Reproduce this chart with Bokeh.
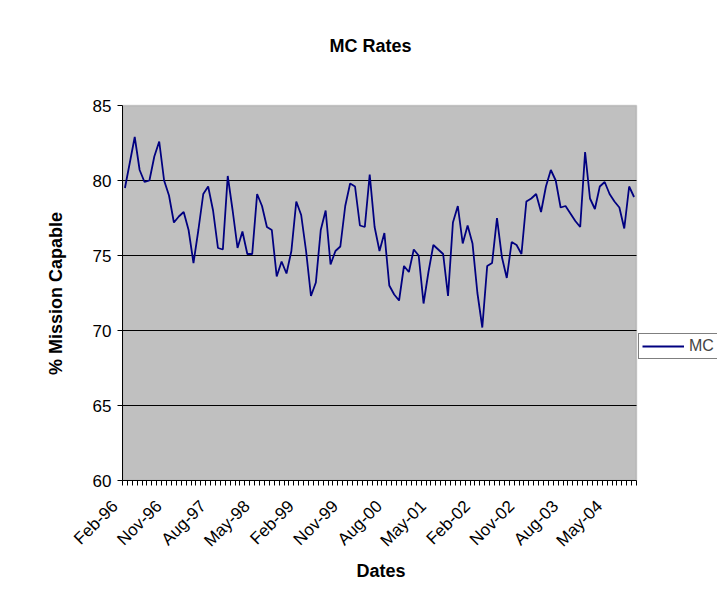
from math import pi
from bokeh.plotting import figure
from bokeh.models import (Range1d, FixedTicker, Legend, LegendItem,
                          BoxAnnotation, Label, Title)
from bokeh.embed import file_html
from bokeh.resources import INLINE

# Monthly MC rates, Feb-96 .. Oct-04
mc_rates = [
    79.5, 81.2, 82.9, 80.7, 79.9, 80.0, 81.6, 82.6, 80.0, 79.0,
    77.2, 77.6, 77.9, 76.7, 74.5, 76.7, 79.1, 79.6, 78.0, 75.5,
    75.4, 80.3, 78.0, 75.5, 76.6, 75.1, 75.1, 79.1, 78.3, 76.9,
    76.7, 73.6, 74.6, 73.8, 75.3, 78.6, 77.7, 75.3, 72.3, 73.2,
    76.7, 78.0, 74.4, 75.3, 75.6, 78.3, 79.8, 79.6, 77.0, 76.9,
    80.4, 76.9, 75.3, 76.5, 73.0, 72.4, 72.0, 74.3, 73.9, 75.4,
    75.0, 71.8, 73.9, 75.7, 75.4, 75.1, 72.3, 77.2, 78.3, 75.8,
    77.0, 75.8, 72.5, 70.2, 74.3, 74.5, 77.5, 74.9, 73.5, 75.9,
    75.7, 75.1, 78.6, 78.8, 79.1, 77.9, 79.6, 80.7, 80.0, 78.2,
    78.3, 77.8, 77.3, 76.9, 81.9, 78.8, 78.1, 79.6, 79.9, 79.1,
    78.6, 78.2, 76.8, 79.6, 78.9,
]
month_index = list(range(len(mc_rates)))

tick_labels = ["Feb-96", "Nov-96", "Aug-97", "May-98", "Feb-99", "Nov-99",
               "Aug-00", "May-01", "Feb-02", "Nov-02", "Aug-03", "May-04"]
tick_months = [0, 9, 18, 27, 36, 45, 54, 63, 72, 81, 90, 99]
y_ticks = [60, 65, 70, 75, 80, 85]
grid_values = [65, 70, 75, 80]
y_min, y_max = 60, 85

FONT = "Liberation Sans"
PAD = "\u00a0\u00a0\u00a0"   # pulls the rotated labels back from the tick, as in Excel
n = len(mc_rates)
x_lo, x_hi = -0.5, n - 0.5

# Canvas / plot-area geometry in pixels
W, H = 717, 593
PLOT_L, PLOT_R, PLOT_T, PLOT_B = 122, 636, 105, 480
px_x = (PLOT_R - PLOT_L) / (x_hi - x_lo)
px_y = (PLOT_B - PLOT_T) / (y_max - y_min)
x_end = x_hi + (W - PLOT_R) / px_x
y_end = y_max + PLOT_T / px_y

p = figure(width=W, height=H, output_backend="svg", toolbar_location=None,
           x_range=Range1d(x_lo, x_end), y_range=Range1d(y_min, y_end),
           min_border_left=PLOT_L, min_border_right=0,
           min_border_top=0, min_border_bottom=H - PLOT_B,
           background_fill_color="white", border_fill_color="white",
           outline_line_color=None, title_location=None)

p.add_layout(BoxAnnotation(left=x_lo, right=x_hi, bottom=y_min, top=y_max,
                           fill_color="#C0C0C0", fill_alpha=1,
                           line_color="#808080", line_width=1.5,
                           level="underlay"))

p.xgrid.visible = False
p.ygrid.visible = False
p.segment(x0=[x_lo] * len(grid_values), x1=[x_hi] * len(grid_values),
          y0=grid_values, y1=grid_values, line_color="black", line_width=1)

r = p.line(month_index, mc_rates, line_color="#000080", line_width=1.8)

# chart title
p.add_layout(Label(x=370 - PLOT_L, y=PLOT_B - 45, x_units="screen",
                   y_units="screen", text="MC Rates", text_align="center",
                   text_baseline="middle", text_font=FONT,
                   text_font_size="18px", text_font_style="bold",
                   text_color="black"))

xa = p.xaxis[0]
xa.bounds = (x_lo, x_hi)
xa.ticker = FixedTicker(ticks=tick_months,
                        minor_ticks=[i - 0.5 for i in range(n + 1)])
xa.major_label_overrides = {m: l + PAD for m, l in zip(tick_months, tick_labels)}
xa.major_label_orientation = pi / 4
xa.major_tick_line_color = None
xa.major_tick_out = 5
xa.major_tick_in = 0
xa.minor_tick_out = 5
xa.minor_tick_in = 0
xa.minor_tick_line_color = "black"
xa.axis_line_color = "black"
xa.major_label_text_font = FONT
xa.major_label_text_font_size = "17px"
xa.major_label_text_color = "black"
xa.major_label_standoff = 8

# x-axis title, centred under the plot area
p.add_layout(Title(text="Dates", align="left", offset=380 - 24 - PLOT_L,
                   text_font=FONT, text_font_size="18px",
                   text_font_style="bold", text_color="black", standoff=-3),
             "below")

ya = p.yaxis[0]
ya.bounds = (y_min, y_max)
ya.ticker = FixedTicker(ticks=y_ticks)
ya.major_tick_out = 5
ya.major_tick_in = 0
ya.major_tick_line_color = "black"
ya.minor_tick_line_color = None
ya.axis_line_color = "black"
ya.major_label_text_font = FONT
ya.major_label_text_font_size = "17px"
ya.major_label_text_color = "black"
ya.major_label_standoff = 6

# y-axis title, centred beside the plot area
p.add_layout(Title(text="% Mission Capable", align="left",
                   offset=(PLOT_B - PLOT_T) / 2 - 82,
                   text_font=FONT, text_font_size="18px",
                   text_font_style="bold", text_color="black", standoff=47),
             "left")

legend = Legend(items=[LegendItem(label="MC", renderers=[r])],
                location=(PLOT_R - PLOT_L + 2, 121), border_line_color="black",
                background_fill_color="white", background_fill_alpha=1,
                label_text_font=FONT, label_text_font_size="16px",
                glyph_width=42, glyph_height=12, padding=3, margin=0,
                spacing=0, label_standoff=5)
p.add_layout(legend)

open("out.html", "w").write(file_html(p, INLINE))
